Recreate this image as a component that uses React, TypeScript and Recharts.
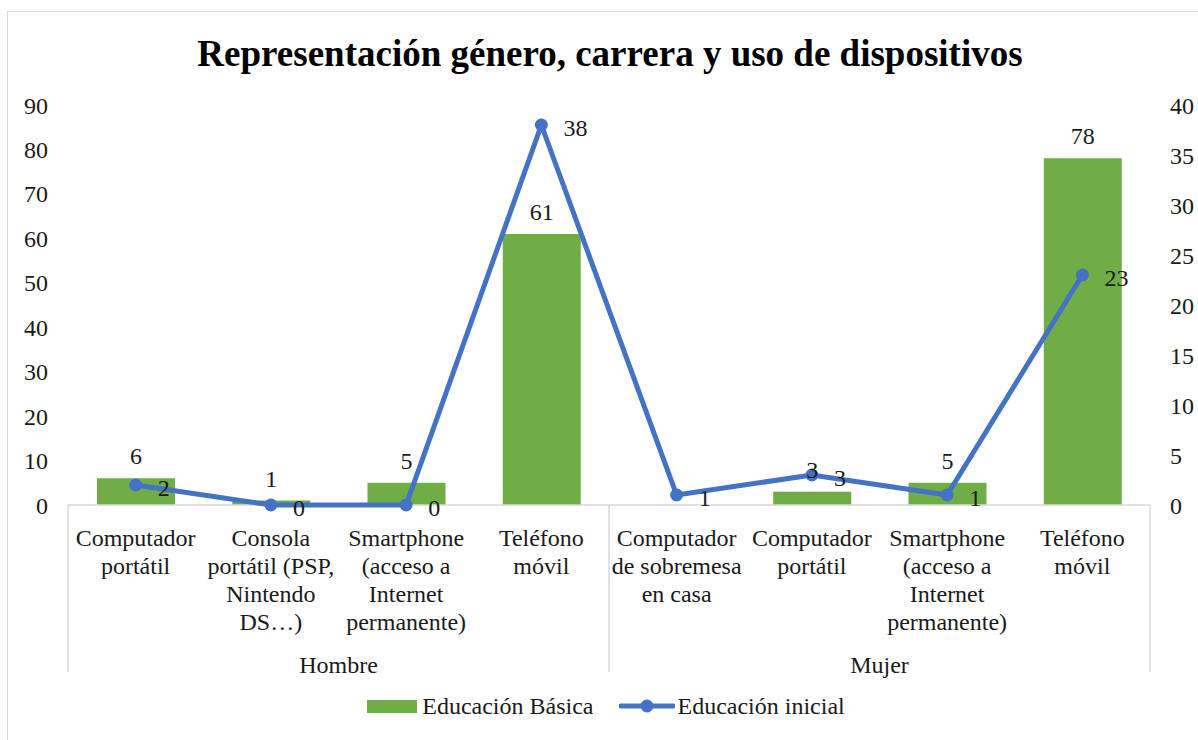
import React from "react";
import { ComposedChart, Bar, Line, XAxis, YAxis, Legend, LabelList } from "recharts";

const DEVICES = [
  "Computador\nportátil",
  "Consola\nportátil (PSP,\nNintendo\nDS…)",
  "Smartphone\n(acceso a\nInternet\npermanente)",
  "Teléfono\nmóvil",
  "Computador\nde sobremesa\nen casa",
  "Computador\nportátil",
  "Smartphone\n(acceso a\nInternet\npermanente)",
  "Teléfono\nmóvil",
];
const GROUPS = ["Hombre", "Hombre", "Hombre", "Hombre", "Mujer", "Mujer", "Mujer", "Mujer"];
const BASICA = [6, 1, 5, 61, null, 3, 5, 78];
const INICIAL = [2, 0, 0, 38, 1, 3, 1, 23];
const LEFT_TICKS = [0, 10, 20, 30, 40, 50, 60, 70, 80, 90];
const RIGHT_TICKS = [0, 5, 10, 15, 20, 25, 30, 35, 40];
const SERIES = { basica: "Educación Básica", inicial: "Educación inicial" };

const FONT = '"Liberation Serif", "Times New Roman", serif';
const INK = "#1a1a1a";
const GREEN = "#70AD47";
const BLUE = "#4472C4";
const RULE = "#d9d9d9";

// page is 1198x740; wrapper is fixed at 0,0 so these are page pixels
const W = 1198;
const PLOT_L = 68;
const PLOT_R = 1150;
const BAND = (PLOT_R - PLOT_L) / DEVICES.length;
const X1_H = 135;
const X2_H = 35;
const LEGEND_H = 50;
const H = 105 + 400 + X1_H + X2_H + LEGEND_H;

const data = DEVICES.map((device, i) => ({
  device,
  group: GROUPS[i],
  basica: BASICA[i],
  inicial: INICIAL[i],
}));

const tickStyle = { fontFamily: FONT, fontSize: 24, fill: INK };

function DeviceTick({ x, y, payload }: any) {
  const lines = String(payload.value).split("\n");
  return (
    <text x={x} y={y + 41} textAnchor="middle" fontFamily={FONT} fontSize={24} fill={INK}>
      {lines.map((l, i) => (
        <tspan key={i} x={x} dy={i === 0 ? 0 : 28}>
          {l}
        </tspan>
      ))}
    </text>
  );
}

// second-level axis: group name centred under its categories + separators
function GroupTick({ x, y, payload, index }: any) {
  const i = index ?? payload.index;
  const g = GROUPS[i];
  const first = i === 0 || GROUPS[i - 1] !== g;
  const last = i === GROUPS.length - 1;
  const size = GROUPS.filter((v) => v === g).length;
  const left = x - BAND / 2;
  return (
    <g>
      {first && <line x1={left} x2={left} y1={y - X1_H} y2={y + 32} stroke={RULE} strokeWidth={1.5} />}
      {last && <line x1={x + BAND / 2} x2={x + BAND / 2} y1={y - X1_H} y2={y + 32} stroke={RULE} strokeWidth={1.5} />}
      {first && (
        <text x={left + (size * BAND) / 2} y={y + 33} textAnchor="middle" fontFamily={FONT} fontSize={24} fill={INK}>
          {payload.value}
        </text>
      )}
    </g>
  );
}

function LegendContent({ payload }: any) {
  const items = payload || [];
  return (
    <div
      style={{
        display: "flex",
        justifyContent: "center",
        alignItems: "center",
        height: LEGEND_H,
        paddingTop: 12,
        paddingLeft: 14,
        boxSizing: "border-box",
        fontFamily: FONT,
        fontSize: 24,
        color: INK,
      }}
    >
      {items.map((it: any, k: number) =>
        it.type === "line" ? (
          <span key={k} style={{ display: "flex", alignItems: "center", marginLeft: 25 }}>
            <svg width={56} height={14} style={{ marginRight: 3 }}>
              <line x1={2} x2={54} y1={7} y2={7} stroke={BLUE} strokeWidth={5} strokeLinecap="round" />
              <circle cx={28} cy={7} r={6.5} fill={BLUE} />
            </svg>
            <span>{it.value}</span>
          </span>
        ) : (
          <span key={k} style={{ display: "flex", alignItems: "center" }}>
            <span style={{ width: 50, height: 13, background: GREEN, marginRight: 5, display: "inline-block" }} />
            <span>{it.value}</span>
          </span>
        )
      )}
    </div>
  );
}

export default function App() {
  return (
    <div style={{ position: "fixed", left: 0, top: 0, width: W, height: 740, overflow: "hidden", background: "#fff" }}>
      <div
        style={{
          position: "absolute",
          left: 7,
          top: 11,
          width: 1220,
          height: 760,
          border: `1.5px solid ${RULE}`,
        }}
      />
      <div
        style={{
          position: "absolute",
          left: 0,
          top: 35,
          width: 1220,
          textAlign: "center",
          fontFamily: FONT,
          fontWeight: 700,
          fontSize: 37,
          lineHeight: 1,
          color: "#000",
        }}
      >
        Representación género, carrera y uso de dispositivos
      </div>
      <div style={{ position: "absolute", left: 0, top: 0 }}>
        <ComposedChart width={W} height={H} data={data} margin={{ top: 105, right: 0, bottom: 0, left: 0 }}>
          <XAxis
            dataKey="device"
            interval={0}
            height={X1_H}
            tickSize={0}
            tickMargin={0}
            tickLine={false}
            axisLine={{ stroke: RULE, strokeWidth: 1.5 }}
            tick={<DeviceTick />}
          />
          <XAxis
            xAxisId="grp"
            dataKey="group"
            interval={0}
            height={X2_H}
            tickSize={0}
            tickMargin={0}
            tickLine={false}
            axisLine={false}
            tick={<GroupTick />}
          />
          <YAxis
            yAxisId="left"
            domain={[0, 90]}
            ticks={LEFT_TICKS}
            width={PLOT_L}
            tickSize={0}
            tickMargin={20}
            axisLine={false}
            tickLine={false}
            tick={tickStyle}
          />
          <YAxis
            yAxisId="right"
            orientation="right"
            domain={[0, 40]}
            ticks={RIGHT_TICKS}
            width={W - PLOT_R}
            tickSize={0}
            tickMargin={20}
            axisLine={false}
            tickLine={false}
            tick={tickStyle}
          />
          <Legend
            verticalAlign="bottom"
            content={<LegendContent />}
            wrapperStyle={{ left: 0, width: W, height: LEGEND_H }}
          />
          <Bar yAxisId="left" dataKey="basica" name={SERIES.basica} fill={GREEN} barSize={78} isAnimationActive={false}>
            <LabelList
              dataKey="basica"
              position="top"
              offset={14}
              fill={INK}
              fontFamily={FONT}
              fontSize={24}
              formatter={(v: any) => (v == null ? "" : v)}
            />
          </Bar>
          <Line
            yAxisId="right"
            dataKey="inicial"
            name={SERIES.inicial}
            type="linear"
            stroke={BLUE}
            strokeWidth={5}
            dot={{ r: 6.5, fill: BLUE, stroke: BLUE, strokeWidth: 0 }}
            activeDot={false}
            legendType="line"
            zIndex={800}
            isAnimationActive={false}
          >
            <LabelList dataKey="inicial" position="right" offset={22} dy={2} fill={INK} fontFamily={FONT} fontSize={24} />
          </Line>
        </ComposedChart>
      </div>
    </div>
  );
}
